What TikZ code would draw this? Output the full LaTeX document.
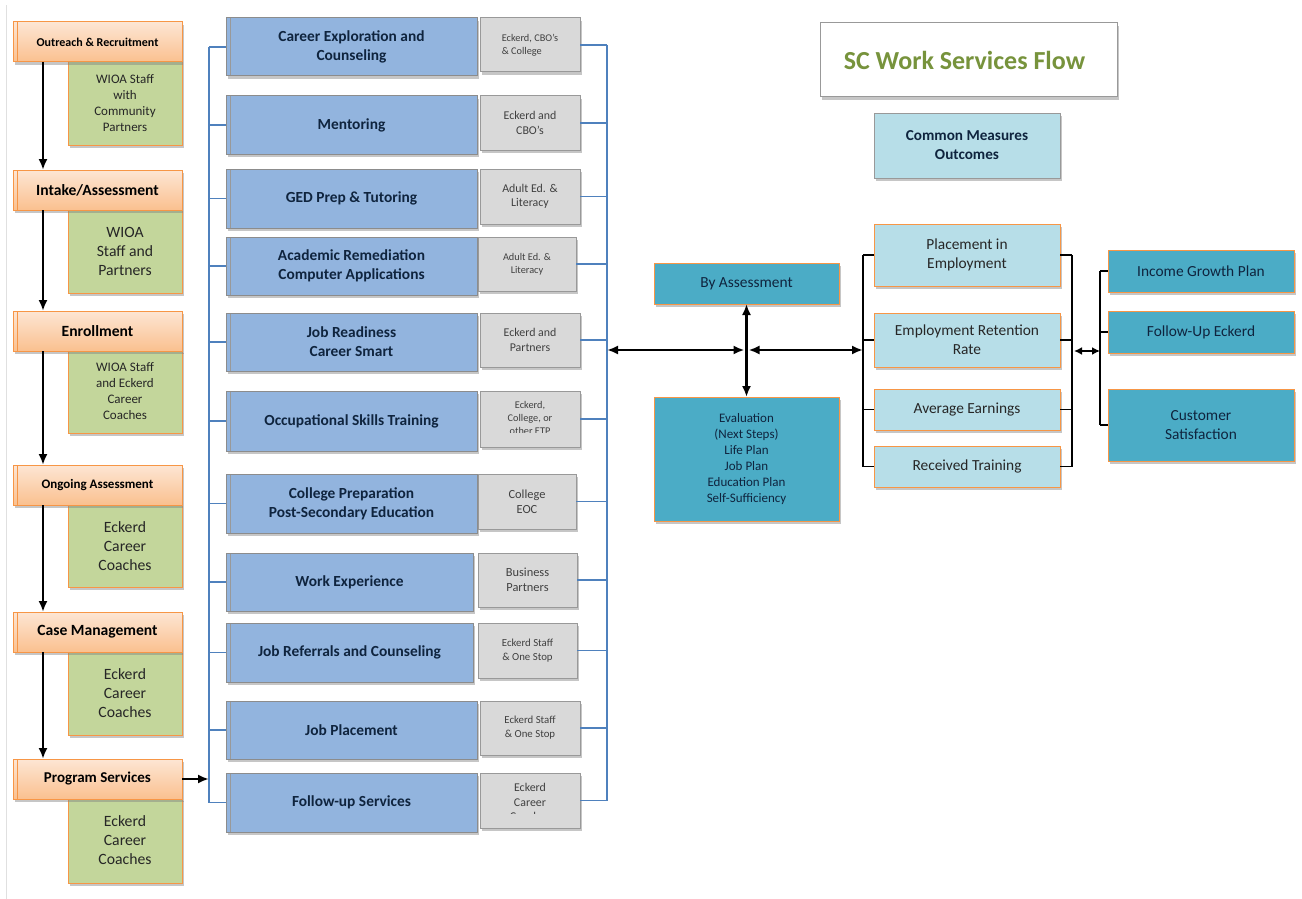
\documentclass[tikz,border=0pt]{standalone}
\usepackage{fontspec}
\setmainfont{Carlito}
\usetikzlibrary{arrows.meta,shadows}

\definecolor{edgeorange}{HTML}{F79646}
\definecolor{peachtop}{HTML}{FDE6D4}
\definecolor{peachbot}{HTML}{FAC08F}
\definecolor{staffgreen}{HTML}{C3D69B}
\definecolor{serviceblue}{HTML}{92B4DE}
\definecolor{partnergrey}{HTML}{D9D9D9}
\definecolor{linkblue}{HTML}{4F81BD}
\definecolor{paleteal}{HTML}{B7DEE8}
\definecolor{deepteal}{HTML}{4BACC6}
\definecolor{titlegreen}{HTML}{77933C}
\definecolor{navytext}{HTML}{0F243E}

\tikzset{
  boxsize/.style 2 args={minimum width=#1pt, minimum height=#2pt},
  card/.style={line width=1pt, align=center, inner sep=1pt, outer sep=0pt,
    drop shadow={shadow xshift=2pt, shadow yshift=-3pt, opacity=.45}},
  stage/.style={card, draw=edgeorange, top color=peachtop, bottom color=peachbot, text=black,
    path picture={\draw[edgeorange, line width=.6pt]
      ([xshift=4pt]path picture bounding box.north west) -- ([xshift=4pt]path picture bounding box.south west);}},
  staff/.style={card, draw=edgeorange, fill=staffgreen, text=black!85},
  service/.style={card, draw=black!45, fill=serviceblue, text=navytext,
    font=\bfseries\fontsize{15.4}{19}\selectfont,
    path picture={\draw[black!40, line width=.8pt]
      ([xshift=4pt]path picture bounding box.north west) -- ([xshift=4pt]path picture bounding box.south west);}},
  partner/.style={card, draw=black!40, fill=partnergrey, text=black!75},
  measure/.style={card, draw=edgeorange, fill=paleteal, text=black!85, font=\fontsize{15.4}{19}\selectfont},
  outcome/.style={card, draw=edgeorange, fill=deepteal, text=navytext, font=\fontsize{15.4}{19}\selectfont},
  bluelink/.style={linkblue, line width=1.2pt},
  bracket/.style={black, line width=1.3pt},
  flow/.style={line width=2.4pt, -{Latex[length=11pt,width=9pt]}},
  twoway/.style={line width=2.4pt, {Latex[length=11pt,width=9pt]}-{Latex[length=11pt,width=9pt]}},
}

\begin{document}
\begin{tikzpicture}[x=1pt, y=-1pt]
  \useasboundingbox (0,0) rectangle (1302,899);
  \draw[black!12] (6,5) -- (6,899);

  % stages down the left side, staff box tucked under each one
  \node[staff, boxsize={114}{83}, font=\fontsize{13}{16}\selectfont] (outstaff) at (125,103.5) {WIOA Staff\\with\\Community\\Partners};
  \node[stage, boxsize={169}{40}, font=\bfseries\fontsize{12}{13}\selectfont] (out) at (97.5,42) {Outreach \& Recruitment};

  \node[staff, boxsize={114}{83}, font=\fontsize{15.7}{19}\selectfont] (intstaff) at (125,251.5) {WIOA\\Staff and\\Partners};
  \node[stage, boxsize={169}{40}, font=\bfseries\fontsize{15.6}{17}\selectfont] (intake) at (97.5,190) {Intake/Assessment};

  \node[staff, boxsize={114}{83}, font=\fontsize{13}{16}\selectfont] (enrstaff) at (125,391.5) {WIOA Staff\\and Eckerd\\Career\\Coaches};
  \node[stage, boxsize={169}{40}, font=\bfseries\fontsize{15.6}{17}\selectfont] (enroll) at (97.5,331) {Enrollment};

  \node[staff, boxsize={114}{82}, font=\fontsize{15.7}{19}\selectfont] (ongstaff) at (125,546) {Eckerd\\Career\\Coaches};
  \node[stage, boxsize={169}{40}, font=\bfseries\fontsize{13}{14}\selectfont] (ongoing) at (97.5,485) {Ongoing Assessment};

  \node[staff, boxsize={114}{83}, font=\fontsize{15.7}{19}\selectfont] (casestaff) at (125,693.5) {Eckerd\\Career\\Coaches};
  \node[stage, boxsize={169}{40}, font=\bfseries\fontsize{15.6}{17}\selectfont] (casem) at (97.5,632) {Case Management};

  \node[staff, boxsize={114}{85}, font=\fontsize{15.7}{19}\selectfont] (progstaff) at (125,840.5) {Eckerd\\Career\\Coaches};
  \node[stage, boxsize={169}{40}, font=\bfseries\fontsize{15}{17}\selectfont] (progs) at (97.5,779) {Program Services};

  \draw[flow] ([xshift=30pt]out.south west) -- ([xshift=30pt]intake.north west);
  \draw[flow] ([xshift=30pt]intake.south west) -- ([xshift=30pt]enroll.north west);
  \draw[flow] ([xshift=30pt]enroll.south west) -- ([xshift=30pt]ongoing.north west);
  \draw[flow] ([xshift=30pt]ongoing.south west) -- ([xshift=30pt]casem.north west);
  \draw[flow] ([xshift=30pt]casem.south west) -- ([xshift=30pt]progs.north west);

  % program services with the partners behind them
  \node[service, boxsize={251}{58}] (ce) at (351.5,47) {Career Exploration and\\Counseling};
  \node[partner, boxsize={100}{54}, align=left, font=\fontsize{10.3}{13}\selectfont] (cep) at (530,45) {Eckerd, CBO’s\\\& College};
  \node[service, boxsize={251}{58}] (ment) at (351.5,125) {Mentoring};
  \node[partner, boxsize={100}{54}, font=\fontsize{11.9}{15}\selectfont] (mentp) at (530,123) {Eckerd and\\CBO’s};
  \node[service, boxsize={251}{59}] (ged) at (351.5,198.5) {GED Prep \& Tutoring};
  \node[partner, boxsize={100}{55}, font=\fontsize{11.9}{14.5}\selectfont] (gedp) at (530,196.5) {Adult Ed. \&\\Literacy};
  \node[service, boxsize={251}{58}] (acad) at (351.5,266) {Academic Remediation\\Computer Applications};
  \node[partner, boxsize={98}{54}, font=\fontsize{10.3}{13}\selectfont] (acadp) at (527,264) {Adult Ed. \&\\Literacy};
  \node[service, boxsize={251}{58}] (jr) at (351.5,342) {Job Readiness\\Career Smart};
  \node[partner, boxsize={100}{54}, font=\fontsize{11.9}{14.5}\selectfont] (jrp) at (530,340) {Eckerd and\\Partners};
  \node[service, boxsize={251}{60}] (occ) at (351.5,421) {Occupational Skills Training};
  \node[partner, boxsize={100}{56}] (occp) at (530,419) {};
  \begin{scope}
    \clip (481,393) rectangle (579,432);
    \node[text=black!75, align=center, font=\fontsize{10.3}{13}\selectfont] (occtxt) at (530,417.5) {Eckerd,\\College, or\\other ETP};
  \end{scope}
  \node[service, boxsize={251}{59}] (coll) at (351.5,503.5) {College Preparation\\Post-Secondary Education};
  \node[partner, boxsize={98}{55}, font=\fontsize{12.4}{15.5}\selectfont] (collp) at (527,501.5) {College\\EOC};
  \node[service, boxsize={247}{58}] (work) at (349.5,582) {Work Experience};
  \node[partner, boxsize={99}{54}, font=\fontsize{12.4}{15.5}\selectfont] (workp) at (527.5,580) {Business\\Partners};
  \node[service, boxsize={247}{59}] (jref) at (349.5,652.5) {Job Referrals and Counseling};
  \node[partner, boxsize={99}{55}, font=\fontsize{10.8}{14}\selectfont] (jrefp) at (527.5,650.5) {Eckerd Staff\\\& One Stop};
  \node[service, boxsize={251}{58}] (jpl) at (351.5,730) {Job Placement};
  \node[partner, boxsize={100}{54}, font=\fontsize{10.8}{14}\selectfont] (jplp) at (530,728) {Eckerd Staff\\\& One Stop};
  \node[service, boxsize={251}{59}] (fu) at (351.5,802.5) {Follow-up Services};
  \node[partner, boxsize={100}{55}] (fup) at (530,800.5) {};
  \begin{scope}
    \clip (481,774) rectangle (579,813);
    \node[text=black!75, align=center, font=\fontsize{11.9}{14.5}\selectfont] (futxt) at (530,802) {Eckerd\\Career\\Coaches};
  \end{scope}

  % blue brackets round the services
  \coordinate (ltop) at (209,0);
  \coordinate (rtop) at (607,0);
  \draw[bluelink] (ce.west -| ltop) -- (fu.west -| ltop);
  \foreach \s in {ce,ment,ged,acad,jr,occ,coll,work,jref,jpl,fu}
    \draw[bluelink] (\s.west -| ltop) -- (\s.west);
  \draw[bluelink] (cep.east -| rtop) -- (fup.east -| rtop);
  \foreach \p in {cep,mentp,gedp,acadp,jrp,occp,collp,workp,jrefp,jplp,fup}
    \draw[bluelink] (\p.east) -- (\p.east -| rtop);
  \draw[flow] (progs.east) -- (progs.east -| ltop);

  % title and measures
  \node[card, draw=black!40, fill=white, boxsize={297}{74}, text=titlegreen,
    font=\bfseries\fontsize{26}{30}\selectfont] (title) at (968.5,60) {SC Work Services Flow\hspace*{8pt}};
  \node[card, draw=black!40, fill=paleteal, boxsize={186}{65}, text=navytext,
    font=\bfseries\fontsize{15.2}{19}\selectfont] (common) at (967,145.5) {Common Measures\\Outcomes};

  \node[outcome, boxsize={185}{41}] (assess) at (746.5,283.5) {By Assessment};
  \node[outcome, boxsize={185}{124}, font=\fontsize{13}{16}\selectfont] (eval) at (746.5,459)
    {Evaluation\\(Next Steps)\\Life Plan\\Job Plan\\Education Plan\\Self-Sufficiency};

  \node[measure, boxsize={186}{62}] (place) at (967,255) {Placement in\\Employment};
  \node[measure, boxsize={186}{54}] (retain) at (967,340) {Employment Retention\\Rate};
  \node[measure, boxsize={186}{41}] (earn) at (967,409.5) {Average Earnings};
  \node[measure, boxsize={186}{41}] (train) at (967,466.5) {Received Training};

  \node[outcome, boxsize={186}{42}] (income) at (1201,271) {Income Growth Plan};
  \node[outcome, boxsize={186}{42}] (follow) at (1201,332) {Follow-Up Eckerd};
  \node[outcome, boxsize={186}{72}] (satis) at (1201,425) {Customer\\Satisfaction};

  % black brackets and the arrows between the groups
  \coordinate (mleft) at (863,0);
  \coordinate (mright) at (1072,0);
  \coordinate (oleft) at (1100,0);
  \draw[bracket] (place.west -| mleft) -- (train.west -| mleft);
  \draw[bracket] (place.east -| mright) -- (train.east -| mright);
  \foreach \m in {place,retain,earn,train} {
    \draw[bracket] (\m.west -| mleft) -- (\m.west);
    \draw[bracket] (\m.east) -- (\m.east -| mright);
  }
  \draw[bracket] (income.west -| oleft) -- (satis.west -| oleft);
  \foreach \o in {income,follow,satis}
    \draw[bracket] (\o.west -| oleft) -- (\o.west);

  \coordinate (hub) at (746.5,350);
  \draw[twoway] (hub -| rtop) -- ([xshift=-2pt]hub);
  \draw[twoway] ([xshift=2pt]hub) -- (hub -| mleft);
  \draw[twoway] (assess.south) -- (eval.north);
  \coordinate (mlink) at (1074,351);
  \draw[line width=2.4pt, {Latex[length=8pt,width=8pt]}-{Latex[length=8pt,width=8pt]}] (mlink) -- (mlink -| oleft);
\end{tikzpicture}
\end{document}
